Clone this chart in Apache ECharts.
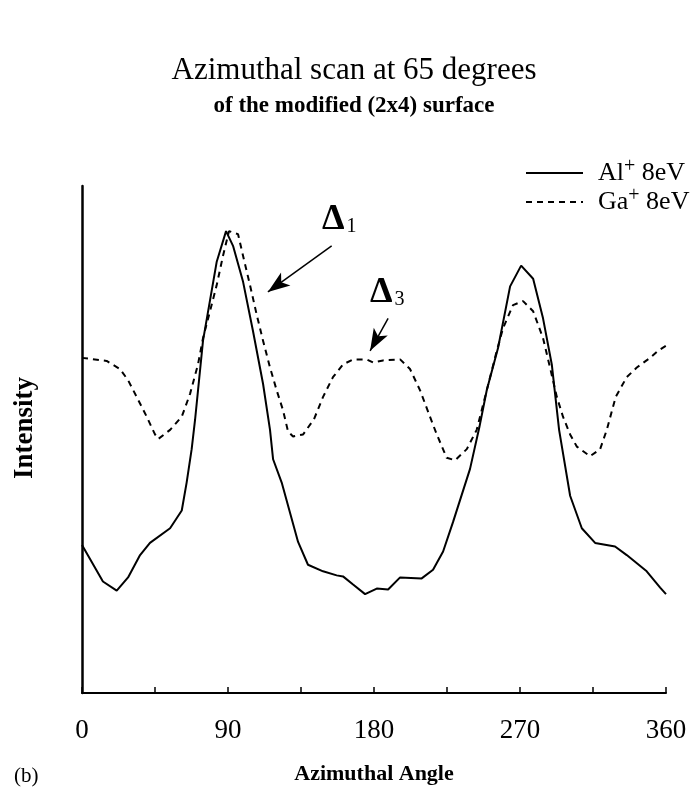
<!DOCTYPE html>
<html>
<head>
<meta charset="utf-8">
<script src="https://cdn.jsdelivr.net/npm/echarts@6/dist/echarts.min.js"></script>
<style>
html,body{margin:0;padding:0;background:#fff;}
#main{width:697px;height:790px;}
</style>
</head>
<body>
<div id="main"></div>
<script>
// Azimuthal angle (deg) and intensity (arb. units, 0-100 of axis height)
var alAngles = [0, 12.9, 21.4, 28.4, 35.8, 41.9, 54.3, 61.5, 64.5, 67.6, 69.7, 74.6, 83.0, 88.8, 93.1, 99.3, 105.4, 111.6, 115.9, 117.8, 123.1, 133.2, 139.3, 148.6, 157.0, 160.9, 167.1, 174.5, 181.7, 188.7, 196.1, 209.4, 216.4, 222.6, 228.7, 239.2, 245.0, 249.5, 256.5, 263.9, 270.7, 278.1, 284.2, 289.6, 294.1, 300.9, 308.1, 316.3, 328.6, 335.8, 348.1, 356.4, 360];
var alValues = [29.2, 22.0, 20.2, 22.8, 27.2, 29.6, 32.5, 36.0, 41.5, 48.1, 53.9, 69.5, 85.0, 91.1, 88.2, 81.1, 71.4, 61.0, 51.9, 46.1, 41.5, 29.8, 25.3, 24.0, 23.2, 23.0, 21.4, 19.5, 20.6, 20.4, 22.8, 22.6, 24.3, 27.9, 33.7, 44.2, 52.5, 59.7, 68.1, 80.2, 84.3, 81.7, 73.9, 64.8, 51.9, 38.9, 32.5, 29.6, 28.9, 27.2, 24.0, 20.8, 19.5];

var gaAngles = [0, 15.2, 23.4, 28.4, 33.7, 39.9, 45.0, 47.0, 54.3, 61.5, 66.6, 71.5, 74.6, 78.9, 83.0, 86.9, 90.6, 96.2, 99.3, 103.6, 107.7, 111.6, 115.9, 120.0, 123.9, 127.0, 130.1, 136.3, 143.0, 148.6, 154.7, 160.9, 167.1, 175.5, 179.4, 185.6, 196.1, 202.2, 208.4, 214.5, 218.7, 224.8, 230.0, 237.2, 243.3, 249.5, 255.7, 259.6, 265.7, 271.9, 278.1, 284.2, 288.5, 292.7, 296.5, 300.9, 305.0, 313.2, 319.4, 323.5, 329.0, 335.8, 342.0, 350.2, 355.1, 360];
var gaValues = [66.1, 65.5, 63.9, 61.7, 58.4, 54.5, 51.0, 50.1, 51.9, 54.5, 59.0, 64.8, 70.0, 75.3, 80.4, 86.2, 91.1, 90.5, 86.2, 80.4, 74.6, 69.5, 64.2, 59.7, 55.8, 51.6, 50.6, 51.0, 54.0, 58.4, 62.3, 64.8, 65.8, 65.8, 65.2, 65.6, 65.8, 63.9, 59.7, 54.5, 51.0, 46.4, 45.9, 48.1, 51.9, 59.7, 67.5, 72.0, 76.5, 77.3, 75.3, 70.0, 64.2, 58.4, 54.5, 51.0, 48.6, 46.7, 48.1, 51.9, 58.4, 62.3, 64.2, 66.1, 67.5, 68.5];

var xTickLabels = ['0', '90', '180', '270', '360'];

// annotation arrows: [fromAngle, fromValue, toAngle, toValue]
var delta1Arrow = [153.9, 88.2, 114.6, 79.1];
var delta3Arrow = [188.7, 73.9, 177.6, 67.5];

function zip(a, b) { return a.map(function (v, i) { return [v, b[i]]; }); }

var serif = '"Liberation Serif", "DejaVu Serif", serif';
var chart = echarts.init(document.getElementById('main'));

chart.setOption({
  animation: false,
  backgroundColor: '#fff',
  title: {
    text: 'Azimuthal scan at 65 degrees',
    subtext: 'of the modified (2x4) surface',
    left: 349, top: 50, textAlign: 'center', itemGap: 9,
    textStyle: { fontFamily: serif, fontSize: 31, fontWeight: 'normal', color: '#000' },
    subtextStyle: { fontFamily: serif, fontSize: 23, fontWeight: 'bold', color: '#000' }
  },
  legend: {
    left: 520, top: 152, orient: 'vertical', itemWidth: 57, itemHeight: 16, itemGap: 0,
    itemStyle: { opacity: 0 },
    textStyle: {
      fontFamily: serif, fontSize: 26, color: '#000', padding: [0, 0, 0, 10],
      rich: {
        sup: { fontFamily: serif, fontSize: 20, color: '#000', verticalAlign: 'top', padding: [0, 0, 12, 0] },
        n: { fontFamily: serif, fontSize: 26, color: '#000' }
      }
    },
    formatter: function (name) {
      var p = name.split('+');
      return '{n|' + p[0] + '}{sup|+}{n|' + p[1] + '}';
    },
    data: ['Al+ 8eV', 'Ga+ 8eV']
  },
  grid: { left: 82, right: 31, top: 186, bottom: 90 },
  xAxis: {
    type: 'value', min: 0, max: 360, interval: 45,
    name: 'Azimuthal Angle', nameLocation: 'middle', nameGap: 70,
    nameTextStyle: { fontFamily: serif, fontSize: 22, fontWeight: 'bold', color: '#000' },
    axisLine: { lineStyle: { color: '#000', width: 2 } },
    axisTick: { inside: true, length: 6, lineStyle: { color: '#000', width: 1.5 } },
    splitLine: { show: false },
    axisLabel: {
      margin: 24, color: '#000', fontFamily: serif, fontSize: 27,
      formatter: function (v) {
        var t = String(v);
        return xTickLabels.indexOf(t) >= 0 ? t : '';
      }
    }
  },
  yAxis: {
    type: 'value', min: 0, max: 100,
    axisLine: { show: true, lineStyle: { color: '#000', width: 2.5 } },
    axisTick: { show: false }, axisLabel: { show: false }, splitLine: { show: false }
  },
  graphic: [
    { type: 'text', left: 12, top: 377, rotation: Math.PI / 2,
      style: { text: 'Intensity', fontFamily: serif, fontSize: 27, fontWeight: 'bold', fill: '#000' } },
    { type: 'text', left: 14, top: 766,
      style: { text: '(b)', fontFamily: serif, fontSize: 21, fill: '#000' } },
    { type: 'text', left: 322, top: 202,
      style: { rich: { d: { fontFamily: serif, fontSize: 36, fontWeight: 'bold', fill: '#000' }, s: { fontFamily: serif, fontSize: 20, fill: '#000', padding: [14, 0, 0, 2] } }, text: '{d|Δ}{s|1}' } },
    { type: 'text', left: 370, top: 275,
      style: { rich: { d: { fontFamily: serif, fontSize: 36, fontWeight: 'bold', fill: '#000' }, s: { fontFamily: serif, fontSize: 20, fill: '#000', padding: [14, 0, 0, 2] } }, text: '{d|Δ}{s|3}' } }
  ],
  series: [
    {
      name: 'Al+ 8eV', type: 'line', showSymbol: false, symbol: 'none',
      data: zip(alAngles, alValues),
      lineStyle: { color: '#000', width: 2 }, itemStyle: { color: '#000' }
    },
    {
      name: 'Ga+ 8eV', type: 'line', showSymbol: false, symbol: 'none',
      data: zip(gaAngles, gaValues),
      lineStyle: { color: '#000', width: 2, type: [6, 5] }, itemStyle: { color: '#000' },
      markLine: {
        silent: true, symbol: ['none', 'arrow'], symbolSize: [12, 22],
        label: { show: false },
        lineStyle: { color: '#000', width: 1.5, type: 'solid' },
        data: [
          [{ coord: [delta1Arrow[0], delta1Arrow[1]] }, { coord: [delta1Arrow[2], delta1Arrow[3]] }],
          [{ coord: [delta3Arrow[0], delta3Arrow[1]] }, { coord: [delta3Arrow[2], delta3Arrow[3]] }]
        ]
      }
    }
  ]
});
</script>
</body>
</html>
